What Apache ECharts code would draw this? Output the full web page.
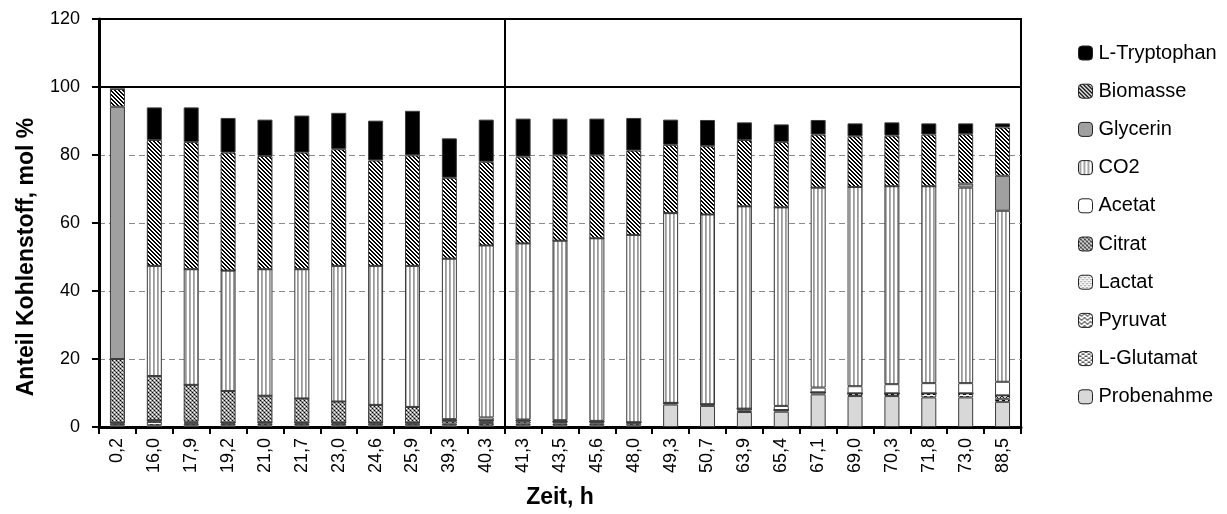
<!DOCTYPE html>
<html><head><meta charset="utf-8">
<script src="https://cdn.jsdelivr.net/npm/echarts@6/dist/echarts.min.js"></script>
<style>html,body{margin:0;padding:0;background:#fff}#c{width:1227px;height:514px}</style>
</head><body><div id="c"></div>
<script>
const categories = ['0,2','16,0','17,9','19,2','21,0','21,7','23,0','24,6','25,9','39,3','40,3','41,3','43,5','45,6','48,0','49,3','50,7','63,9','65,4','67,1','69,0','70,3','71,8','73,0','88,5'];
const probenahme = [0.5,0.5,0.5,0.5,0.5,0.5,0.5,0.5,0.5,0.5,0.5,0.5,0.5,0.5,0.5,6.6,6.2,4.4,4.5,9.6,9.1,9.1,8.7,8.7,7.4];
const glutamat   = [0.5,1.0,0.5,0.5,0.6,0.5,0.5,0.5,0.5,0.5,0.7,0.5,0.5,0.5,0.7,0.5,0.5,0.4,0.5,0.6,0.8,0.8,1.2,1.2,0.9];
const pyruvat    = [0.3,0.5,0.3,0.3,0.3,0.3,0.3,0.3,0.3,0.7,0.5,0.6,0.5,0.4,0.2,0,0,0.6,0,0,0,0,0,0,1.0];
const lactat     = [0,0,0.3,0,0,0,0,0,0,0.3,0.3,0.3,0.2,0.2,0,0,0,0,0,0,0,0,0,0,0];
const citrat     = [18.7,13.0,10.8,9.3,7.8,7.1,6.2,5.2,4.6,0,0,0,0,0,0,0,0,0,0,0,0,0,0,0,0];
const acetat     = [0,0,0,0,0,0,0,0,0,0.3,0.8,0.3,0.3,0.2,0,0,0,0,1.2,1.4,2.1,2.7,3.0,3.0,4.0];
const co2        = [0,32.4,34.0,35.4,37.2,38.0,39.9,40.9,41.5,47.2,50.6,51.8,52.8,53.7,55.1,55.8,55.8,59.5,58.4,58.8,58.6,58.2,57.9,57.5,50.3];
const glycerin   = [74.2,0,0,0,0,0,0,0,0,0,0,0,0,0,0,0,0,0,0,0,0,0,0,1.2,10.3];
const biomasse   = [5.2,37.0,37.4,34.7,33.3,34.3,34.3,31.0,32.5,23.8,24.6,25.5,25.1,24.4,24.8,20.1,20.1,19.5,19.2,15.6,14.9,14.9,15.2,14.5,14.2];
const tryptophan = [0,9.6,10.2,10.2,10.7,10.9,10.7,11.7,13.1,11.6,12.4,11.2,10.8,10.8,9.6,7.4,7.7,5.2,5.2,4.3,3.8,3.9,3.3,3.2,1.2];
const yTicks = {min:0, max:120, interval:20};

function pat(w, h, draw) {
  const c = document.createElement('canvas'); c.width = w; c.height = h;
  const g = c.getContext('2d'); g.fillStyle = '#fff'; g.fillRect(0,0,w,h); draw(g);
  return {image: c, repeat: 'repeat'};
}
function px(g, col, pts){ g.fillStyle = col; pts.forEach(p=>g.fillRect(p[0],p[1],1,1)); }
const P = {
  tryptophan: '#000000',
  biomasse: pat(4,4,g=>{ for(let y=0;y<4;y++){ px(g,'#000',[[y%4,y],[(y+1)%4,y]]); } }),
  glycerin: '#a0a0a0',
  co2: pat(4,1,g=>{ g.fillStyle='#9a9a9a'; g.fillRect(1,0,1,1); g.fillStyle='#b0b0b0'; g.fillRect(2,0,1,1); }),
  acetat: '#ffffff',
  citrat: pat(4,4,g=>{ g.fillStyle='#a0a0a0'; g.fillRect(0,0,4,4); px(g,'#000',[[0,0],[2,2]]); px(g,'#fff',[[2,0],[0,2]]); px(g,'#606060',[[1,1],[3,3]]); }),
  lactat: pat(4,4,g=>{ px(g,'#444',[[0,0],[2,2]]); px(g,'#bbb',[[2,0],[0,2]]); }),
  pyruvat: pat(6,4,g=>{ px(g,'#000',[[0,0],[1,1],[2,2],[3,2],[4,1],[5,0]]); }),
  glutamat: pat(6,4,g=>{ px(g,'#000',[[0,0],[1,0],[2,0],[3,2],[4,2],[5,2]]); }),
  probenahme: '#d8d8d8'
};

const stackDefs = [
  ['Probenahme', probenahme, P.probenahme],
  ['L-Glutamat', glutamat, P.glutamat],
  ['Pyruvat', pyruvat, P.pyruvat],
  ['Lactat', lactat, P.lactat],
  ['Citrat', citrat, P.citrat],
  ['Acetat', acetat, P.acetat],
  ['CO2', co2, P.co2],
  ['Glycerin', glycerin, P.glycerin],
  ['Biomasse', biomasse, P.biomasse],
  ['L-Tryptophan', tryptophan, P.tryptophan]
];
const series = stackDefs.map(d => ({
  name: d[0], type: 'bar', stack: 'all', data: d[1], barWidth: 15,
  itemStyle: {color: d[2], borderColor: '#3c3c3c', borderWidth: 1},
  emphasis: {disabled: true}, animation: false
}));
series.push({
  type: 'scatter', xAxisIndex: 1, yAxisIndex: 0, data: [], silent: true, animation: false,
  markLine: {
    silent: true, symbol: 'none', animation: false, label: {show: false},
    lineStyle: {color: '#000', width: 2, type: 'solid'},
    data: [{yAxis: 100}, {yAxis: 120}, {xAxis: 11}]
  }
});

const font = '"Liberation Sans", Arial, sans-serif';
const chart = echarts.init(document.getElementById('c'));
chart.setOption({
  animation: false,
  textStyle: {fontFamily: font},
  grid: {left: 99, right: 206, top: 19, bottom: 87, show: true, borderColor: '#000', borderWidth: 2, containLabel: false, outerBoundsMode: 'none'},
  legend: {
    orient: 'vertical', left: 1073, top: 38, itemWidth: 14, itemHeight: 14, itemGap: 18.2,
    data: ['L-Tryptophan','Biomasse','Glycerin','CO2','Acetat','Citrat','Lactat','Pyruvat','L-Glutamat','Probenahme'],
    textStyle: {fontSize: 20, color: '#000', fontFamily: font, padding: [0,0,0,1]},
    itemStyle: {borderColor: '#222', borderWidth: 1},
    selectedMode: false
  },
  xAxis: [{
    type: 'category', data: categories,
    name: 'Zeit, h', nameLocation: 'middle', nameGap: 59,
    nameTextStyle: {fontSize: 23, fontWeight: 'bold', color: '#000', fontFamily: font},
    axisLine: {lineStyle: {color: '#000', width: 3}},
    axisTick: {show: true, length: 7, lineStyle: {color: '#000', width: 2}},
    axisLabel: {rotate: 90, fontSize: 18, color: '#000', margin: 11, interval: 0, fontFamily: font}
  }, {
    type: 'value', min: 0, max: 25, show: false
  }],
  yAxis: {
    type: 'value', min: yTicks.min, max: yTicks.max, interval: yTicks.interval,
    name: 'Anteil Kohlenstoff, mol %', nameLocation: 'middle', nameGap: 61,
    nameTextStyle: {fontSize: 23, fontWeight: 'bold', color: '#000', fontFamily: font, padding: [0, 68, 0, 0]},
    axisLine: {show: true, lineStyle: {color: '#000', width: 3}},
    axisTick: {show: true, length: 7, lineStyle: {color: '#000', width: 2}},
    axisLabel: {fontSize: 18, color: '#000', margin: 19, fontFamily: font},
    splitLine: {show: true, lineStyle: {color: '#8a8a8a', width: 1, type: [6, 4]}}
  },
  series: series
});
</script></body></html>
